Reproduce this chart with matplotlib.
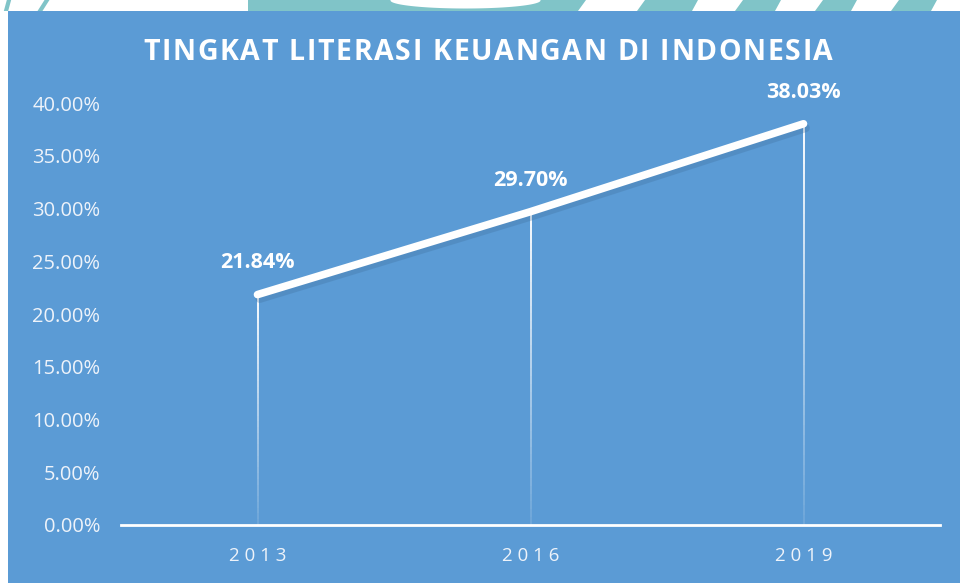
import matplotlib.pyplot as plt
import numpy as np
from matplotlib.patches import Polygon

# Data
years = ['2013', '2016', '2019']
literacy = [21.84, 29.70, 38.03]
y_ticks = [0, 5, 10, 15, 20, 25, 30, 35, 40]
title = 'TINGKAT LITERASI KEUANGAN DI INDONESIA'

BG = '#5B9BD5'
TEAL = '#80C4C8'
TEXT = '#EEF3FA'

fig = plt.figure(figsize=(9.6, 5.83), dpi=100)
fig.patch.set_facecolor('white')

# blue panel (screenshot has a thin white border on top/left)
panel = fig.add_axes([8 / 960, 0, 1 - 8 / 960, 1 - 11 / 583])
panel.set_facecolor(BG)
panel.set_xticks([])
panel.set_yticks([])
for s in panel.spines.values():
    s.set_visible(False)

# teal decoration peeking out at the top of the screenshot
deco = fig.add_axes([0, 1 - 11 / 583, 1, 11 / 583])
deco.set_xlim(0, 960)
deco.set_ylim(0, 11)
deco.axis('off')
deco.add_patch(Polygon([(248, 0), (578, 0), (586, 11), (248, 11)], color=TEAL, lw=0))
for x0, x1 in [(637, 692), (735, 775), (815, 851), (891, 931)]:
    deco.add_patch(Polygon([(x0, 0), (x1, 0), (x1 + 6, 11), (x0 + 8, 11)], color=TEAL, lw=0))
t = np.linspace(0, np.pi, 60)
deco.fill_between(465 + 75 * np.cos(t), 11 - 8 * np.sin(t), 11.5, color='white', lw=0)
deco.plot([6, 9], [0, 11], color=TEAL, lw=3)
deco.plot([40, 47], [0, 11], color=TEAL, lw=3)

ax = fig.add_axes([121 / 960, 58 / 583, 819 / 960, (525 - 103) / 583])
ax.set_facecolor('none')
x = np.arange(len(years))

# drop lines fading toward the bottom
for xi, yi in zip(x, literacy):
    n = 40
    ys = np.linspace(0, yi, n + 1)
    for k in range(n):
        a = 0.12 + 0.88 * (k / n)
        ax.plot([xi, xi], [ys[k], ys[k + 1]], color='white', lw=1.4, alpha=a,
                solid_capstyle='butt', zorder=2)

# shadow + main line
ax.plot(x + 0.008, np.array(literacy) - 0.4, color='#3F6F9C', lw=6, alpha=0.3,
        solid_capstyle='round', zorder=3)
ax.plot(x, literacy, color='white', lw=5.5, solid_capstyle='round', zorder=4)

for xi, yi in zip(x, literacy):
    ax.text(xi, yi + 3.0, f'{yi:.2f}%', ha='center', va='center', color='white',
            fontsize=15.5, fontweight='bold', family='Open Sans', clip_on=False)

ax.set_xlim(-0.5, 2.5)
ax.set_ylim(0, 40)
ax.set_yticks(y_ticks)
ax.set_yticklabels([f'{v:.2f}%' for v in y_ticks], color=TEXT, fontsize=14.5,
                   family='Open Sans')
ax.set_xticks(x)
ax.set_xticklabels([' '.join(y) for y in years], color=TEXT, fontsize=13.5,
                   family='Open Sans')
ax.tick_params(axis='y', length=0, pad=15)
ax.tick_params(axis='x', length=0, pad=16)
for side in ['top', 'right', 'left']:
    ax.spines[side].set_visible(False)
ax.spines['bottom'].set_color('white')
ax.spines['bottom'].set_linewidth(2)

# letter-spaced title, fitted between x=143 and x=833
renderer = fig.canvas.get_renderer()
tkw = dict(fontsize=20.5, fontweight='bold', family='Open Sans')


def text_w(s):
    tt = fig.text(0, 0, s, **tkw)
    w = tt.get_window_extent(renderer).width
    tt.remove()
    return w


hh = text_w('HH')
adv = [text_w('H' + ch + 'H') - hh for ch in title]
left, right = 143, 833
track = (right - left - sum(adv)) / (len(title) - 1)
cx = left
for ch, a in zip(title, adv):
    fig.text(cx / 960, 1 - 52 / 583, ch, ha='left', va='center', color='white', **tkw)
    cx += a + track

fig.savefig('out.png', dpi=100)
